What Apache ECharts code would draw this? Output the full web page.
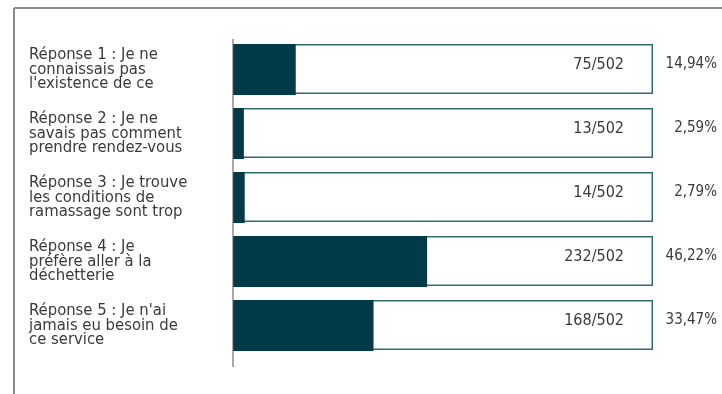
<!DOCTYPE html>
<html>
<head>
<meta charset="utf-8">
<script src="https://cdn.jsdelivr.net/npm/echarts@6/dist/echarts.min.js"></script>
<style>html,body{margin:0;padding:0;background:#fff;}#c{width:722px;height:394px;}</style>
</head>
<body>
<div id="c"></div>
<script>
var categories = [
  "Réponse 1 : Je ne\nconnaissais pas\nl'existence de ce",
  "Réponse 2 : Je ne\nsavais pas comment\nprendre rendez-vous",
  "Réponse 3 : Je trouve\nles conditions de\nramassage sont trop",
  "Réponse 4 : Je\npréfère aller à la\ndéchetterie",
  "Réponse 5 : Je n'ai\njamais eu besoin de\nce service"
];
var counts = [75, 13, 14, 232, 168];
var total = 502;
var totals = [502, 502, 502, 502, 502];
var percentLabels = ["14,94%", "2,59%", "2,79%", "46,22%", "33,47%"];

var FONT = "'DejaVu Sans Condensed', 'DejaVu Sans', sans-serif";
var TXT = '#3a3a3a';
var chart = echarts.init(document.getElementById('c'), null, {renderer: 'canvas'});
chart.setOption({
  animation: false,
  grid: {left: 233, right: 69, top: 37.5, height: 320},
  xAxis: {type: 'value', min: 0, max: total, show: false},
  yAxis: [{
    type: 'category', data: categories, inverse: true,
    axisLine: {show: false}, axisTick: {show: false},
    axisLabel: {
      align: 'left', margin: 204, color: TXT, fontFamily: FONT, fontSize: 16.5,
      lineHeight: 14.6
    }
  }, {
    type: 'category', data: percentLabels, inverse: true, position: 'right',
    axisLine: {show: false}, axisTick: {show: false},
    axisLabel: {
      align: 'right', verticalAlign: 'bottom', lineHeight: 10,
      margin: 64, color: TXT, fontFamily: FONT, fontSize: 15
    }
  }],
  series: [{
    type: 'bar', data: totals, barWidth: 50, barGap: '-100%', z: 1,
    itemStyle: {color: '#ffffff', borderColor: '#2f6c74', borderWidth: 1.5},
    label: {
      show: true, position: 'insideRight', distance: 29, color: TXT,
      fontFamily: FONT, fontSize: 16, offset: [0, -4],
      formatter: function (p) { return counts[p.dataIndex] + '/' + total; }
    },
    silent: true
  }, {
    type: 'bar', data: counts, barWidth: 51, z: 2,
    itemStyle: {color: '#033a4a'},
    silent: true
  }],
  graphic: [
    {type: 'line', shape: {x1: 14, y1: 8, x2: 722, y2: 8}, style: {stroke: '#8a8a8a', lineWidth: 2}},
    {type: 'line', shape: {x1: 14, y1: 8, x2: 14, y2: 394}, style: {stroke: '#8a8a8a', lineWidth: 2}},
    {type: 'line', shape: {x1: 233, y1: 39, x2: 233, y2: 367}, style: {stroke: '#555', lineWidth: 1}, z: 10}
  ]
});
</script>
</body>
</html>
